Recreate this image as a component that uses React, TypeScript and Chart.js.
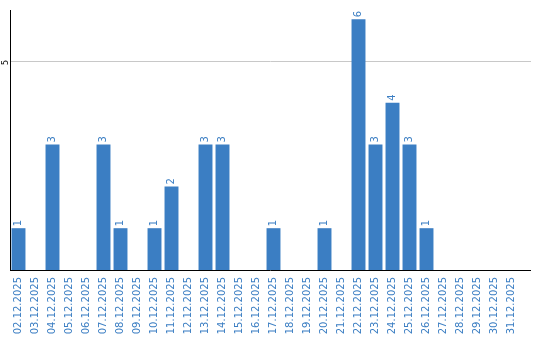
import React, { useEffect, useRef } from "react";
import { Chart, registerables } from "chart.js";

Chart.register(...registerables);

const categories = [
  "02.12.2025", "03.12.2025", "04.12.2025", "05.12.2025", "06.12.2025",
  "07.12.2025", "08.12.2025", "09.12.2025", "10.12.2025", "11.12.2025",
  "12.12.2025", "13.12.2025", "14.12.2025", "15.12.2025", "16.12.2025",
  "17.12.2025", "18.12.2025", "19.12.2025", "20.12.2025", "21.12.2025",
  "22.12.2025", "23.12.2025", "24.12.2025", "25.12.2025", "26.12.2025",
  "27.12.2025", "28.12.2025", "29.12.2025", "30.12.2025", "31.12.2025",
];
const values = [1, 0, 3, 0, 0, 3, 1, 0, 1, 2, 0, 3, 3, 0, 0, 1, 0, 0, 1, 0, 6, 3, 4, 3, 1, 0, 0, 0, 0, 0];
const yTicks = [5];

const BLUE = "#3b7ec3";
const FONT = "'DejaVu Sans', sans-serif";

const customPlugin = {
  id: "custom",
  beforeDatasetsDraw(chart: any) {
    const { ctx, chartArea } = chart;
    const y = chart.scales.y;
    const extRight = chartArea.right + 11;
    ctx.save();
    ctx.strokeStyle = "#c8c8c8";
    ctx.lineWidth = 1;
    yTicks.forEach((t) => {
      const py = Math.round(y.getPixelForValue(t)) + 0.5;
      ctx.beginPath();
      ctx.moveTo(chartArea.left, py);
      ctx.lineTo(extRight, py);
      ctx.stroke();
      ctx.save();
      ctx.fillStyle = "#000";
      ctx.font = `8px ${FONT}`;
      ctx.translate(chartArea.left - 4, py + 1);
      ctx.rotate(-Math.PI / 2);
      ctx.textAlign = "center";
      ctx.textBaseline = "middle";
      ctx.fillText(String(t), 0, 0);
      ctx.restore();
    });
    ctx.restore();
  },
  afterDatasetsDraw(chart: any) {
    const { ctx, chartArea } = chart;
    const extRight = chartArea.right + 11;
    ctx.save();
    ctx.strokeStyle = "#000";
    ctx.lineWidth = 1;
    ctx.beginPath();
    ctx.moveTo(chartArea.left + 0.5, chartArea.top);
    ctx.lineTo(chartArea.left + 0.5, chartArea.bottom);
    ctx.stroke();
    ctx.beginPath();
    ctx.moveTo(chartArea.left, Math.round(chartArea.bottom) + 0.5);
    ctx.lineTo(extRight, Math.round(chartArea.bottom) + 0.5);
    ctx.stroke();
    const meta = chart.getDatasetMeta(0);
    ctx.fillStyle = BLUE;
    ctx.font = `10px ${FONT}`;
    meta.data.forEach((bar: any, i: number) => {
      const v = values[i];
      if (!v) return;
      ctx.save();
      ctx.translate(bar.x, bar.y - 2);
      ctx.rotate(-Math.PI / 2);
      ctx.textAlign = "left";
      ctx.textBaseline = "middle";
      ctx.fillText(String(v), 0, 0);
      ctx.restore();
    });
    ctx.restore();
  },
};

export default function App() {
  const ref = useRef<HTMLCanvasElement>(null);
  useEffect(() => {
    document.body.style.margin = "0";
    const chart = new Chart(ref.current!, {
      type: "bar",
      data: {
        labels: categories,
        datasets: [
          {
            data: values,
            backgroundColor: BLUE,
            barPercentage: 0.82,
            categoryPercentage: 1,
          },
        ],
      },
      options: {
        animation: false,
        responsive: false,
        layout: { padding: { left: 10, top: 10, right: 20, bottom: 0 } },
        plugins: { legend: { display: false }, tooltip: { enabled: false } },
        scales: {
          x: {
            grid: { display: false, drawTicks: false },
            border: { display: false },
            ticks: {
              color: BLUE,
              font: { family: FONT, size: 10 },
              minRotation: 90,
              maxRotation: 90,
              padding: 7,
              autoSkip: false,
            },
            afterFit: (s: any) => {
              s.height = 70;
              s.paddingLeft = 0;
              s.paddingRight = 0;
            },
          },
          y: {
            min: 0,
            max: 6.22,
            grid: { display: false },
            border: { display: false },
            ticks: { display: false },
            afterFit: (s: any) => {
              s.width = 0;
            },
          },
        },
      },
      plugins: [customPlugin],
    });
    return () => chart.destroy();
  }, []);
  return <canvas ref={ref} width={540} height={340} style={{ display: "block" }} />;
}
